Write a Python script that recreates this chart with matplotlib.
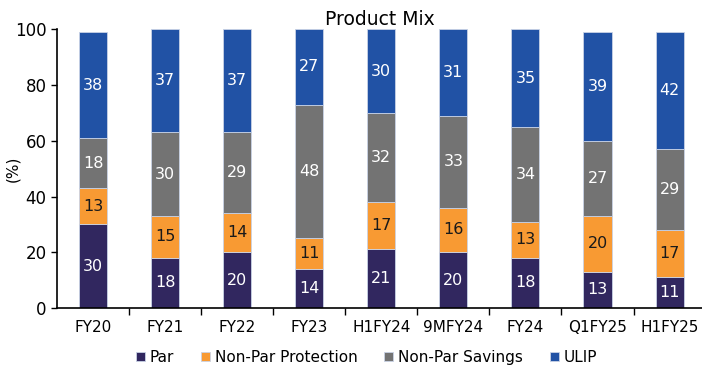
import numpy as np
import matplotlib.pyplot as plt

categories = ["FY20", "FY21", "FY22", "FY23", "H1FY24", "9MFY24", "FY24", "Q1FY25", "H1FY25"]
par = [30, 18, 20, 14, 21, 20, 18, 13, 11]
non_par_protection = [13, 15, 14, 11, 17, 16, 13, 20, 17]
non_par_savings = [18, 30, 29, 48, 32, 33, 34, 27, 29]
ulip = [38, 37, 37, 27, 30, 31, 35, 39, 42]

series = [
    ("Par", par, "#31275f", "white"),
    ("Non-Par Protection", non_par_protection, "#f89a33", "#1a1a1a"),
    ("Non-Par Savings", non_par_savings, "#737373", "white"),
    ("ULIP", ulip, "#2152a5", "white"),
]

plt.rcParams["font.family"] = "DejaVu Sans"
fig = plt.figure(figsize=(7.02, 3.72), dpi=100)
ax = fig.add_axes([57 / 702, 64 / 372, 645 / 702, 278.7 / 372])

x = np.arange(len(categories))
bottom = np.zeros(len(categories))
for name, vals, color, tcolor in series:
    vals = np.array(vals, dtype=float)
    ax.bar(x, vals, 0.39, bottom=bottom, color=color, label=name,
           edgecolor="#c9d3e6", linewidth=0.6)
    for xi, b, v in zip(x, bottom, vals):
        ax.text(xi, b + v / 2, f"{v:.0f}", ha="center", va="center",
                color=tcolor, fontsize=11.5)
    bottom += vals

ax.set_xlim(-0.5, 8.45)
ax.set_ylim(0, 100)
ax.set_yticks(range(0, 101, 20))
ax.set_ylabel("(%)", fontsize=11)
ax.yaxis.set_label_coords(-0.057, 0.5)
ax.tick_params(axis="y", labelsize=12, length=4, width=1)

# category labels centred under bars, tick marks between categories
ax.set_xticks(x)
ax.set_xticklabels(categories, fontsize=11)
ax.tick_params(axis="x", length=0, pad=9)
ax.set_xticks(np.arange(0.5, len(categories) - 1, 1), minor=True)
ax.tick_params(axis="x", which="minor", length=5, width=1)

for s in ["top", "right"]:
    ax.spines[s].set_visible(False)
ax.spines["left"].set_linewidth(1.2)
ax.spines["bottom"].set_linewidth(1.2)

ax.set_title("Product Mix", fontsize=13.5, pad=3)

fig.legend(loc="lower center", bbox_to_anchor=(0.522, -0.018), ncol=4, frameon=False,
           fontsize=11, handlelength=0.6, handleheight=0.6, handletextpad=0.3,
           columnspacing=1.75)

fig.savefig("out.png", dpi=100)
